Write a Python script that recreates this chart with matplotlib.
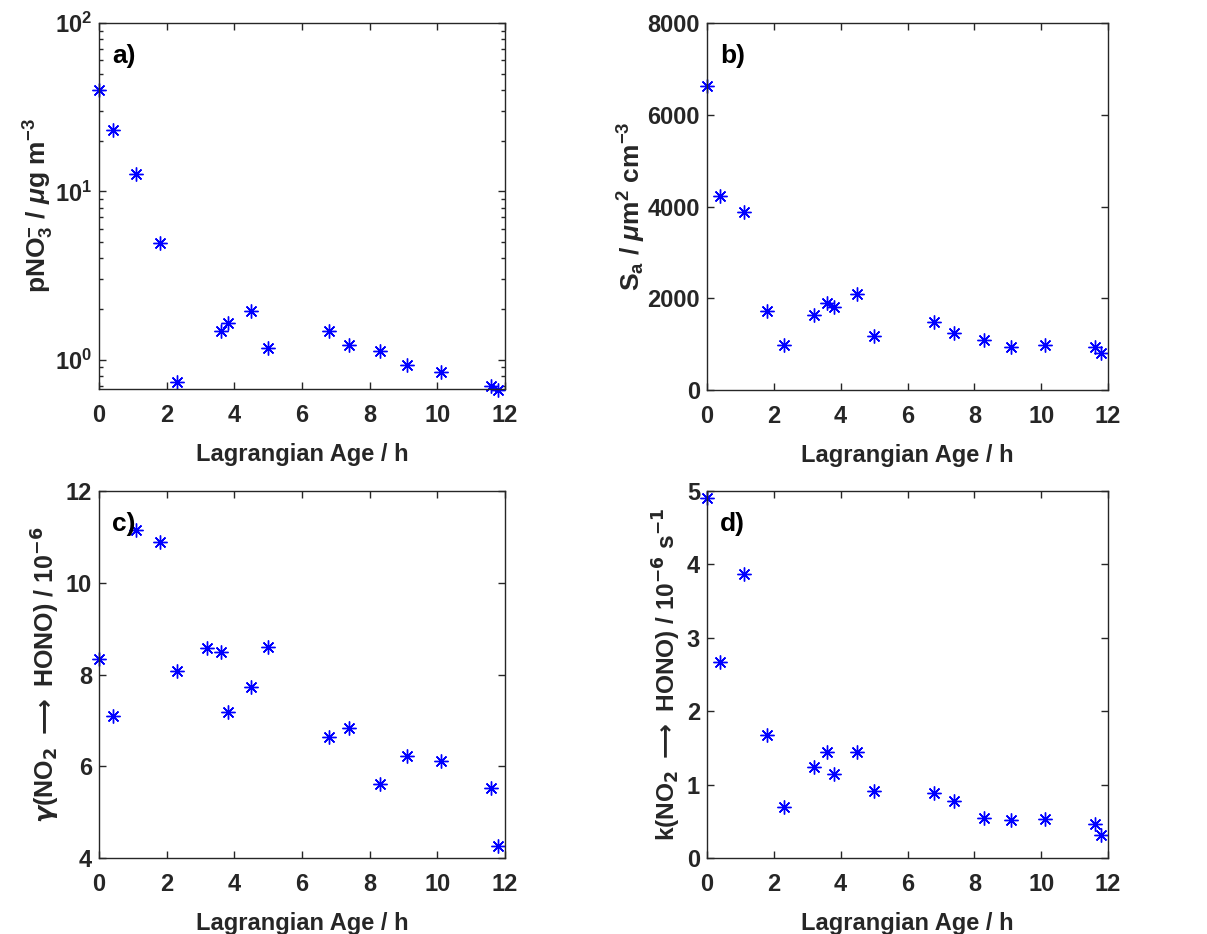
import numpy as np
import matplotlib
matplotlib.use("Agg")
import matplotlib.pyplot as plt
from matplotlib.ticker import LogLocator, NullFormatter

plt.rcParams['font.family'] = ['Liberation Sans', 'DejaVu Sans']
plt.rcParams['font.weight'] = 'bold'
plt.rcParams['mathtext.fontset'] = 'custom'
plt.rcParams['mathtext.rm'] = 'Liberation Sans:bold'
plt.rcParams['mathtext.bf'] = 'Liberation Sans:bold'
plt.rcParams['mathtext.it'] = 'Liberation Sans:italic'
plt.rcParams['mathtext.default'] = 'bf'

age = [0.0, 0.4, 1.1, 1.8, 2.3, 3.2, 3.6, 3.8, 4.5, 5.0, 6.8, 7.4, 8.3, 9.1, 10.1, 11.6, 11.8]
pno3 = [40.2, 23.2, 12.7, 4.93, 0.74, np.nan, 1.49, 1.65, 1.94, 1.18, 1.49, 1.22, 1.12, 0.93, 0.85, 0.70, 0.66]
sa = [6633, 4233, 3891, 1731, 975, 1636, 1905, 1804, 2087, 1178, 1484, 1251, 1091, 931, 975, 931, 815]
gamma = [8.34, 7.10, 11.16, 10.89, 8.07, 8.58, 8.50, 7.18, 7.72, 8.61, 6.63, 6.83, 5.62, 6.22, 6.12, 5.53, 4.26]
krate = [4.90, 2.67, 3.87, 1.68, 0.69, 1.24, 1.44, 1.14, 1.44, 0.91, 0.88, 0.77, 0.55, 0.52, 0.53, 0.47, 0.31]

xticks = [0, 2, 4, 6, 8, 10, 12]
xlabel = 'Lagrangian Age / h'

W, H = 1207, 934
fig = plt.figure(figsize=(W/100, H/100), dpi=100)

def ax_at(l, t, r, b):
    return fig.add_axes([l/W, 1-b/H, (r-l)/W, (b-t)/H])

axes = [ax_at(99, 23, 505, 389), ax_at(707, 23, 1108, 390),
        ax_at(99, 491, 505, 858), ax_at(707, 491, 1108, 858)]

ys = [pno3, sa, gamma, krate]
labels = ['a)', 'b)', 'c)', 'd)']
ylabels = [r'pNO$_3^{-}$ / $\mathit{\mu}$g m$^{-3}$',
           r'S$_a$ / $\mathit{\mu}$m$^2$ cm$^{-3}$',
           r'$\mathit{\gamma}$(NO$_2$ $\longrightarrow$ HONO) / 10$^{-6}$',
           r'k(NO$_2$ $\longrightarrow$ HONO) / 10$^{-6}$ s$^{-1}$']
math_families = ['custom', 'custom', 'dejavusans', 'dejavusans']
ylabel_sizes = [19, 19, 18, 17.6]
ylabelpads = [-1, -0.5, 2.5, 2.5]
ylims = [(0.67, 100), (0, 8000), (4, 12), (0, 5)]
yticks = [[1, 10, 100], [0, 2000, 4000, 6000, 8000], [4, 6, 8, 10, 12], [0, 1, 2, 3, 4, 5]]

for i, ax in enumerate(axes):
    ax.plot(age, ys[i], linestyle='none', marker=(8, 2, 0), color='#0000ff',
            markersize=10, markeredgewidth=1.0, clip_on=False)
    if i == 0:
        ax.set_yscale('log')
        ax.yaxis.set_minor_locator(LogLocator(base=10, subs=np.arange(2, 10)))
        ax.yaxis.set_minor_formatter(NullFormatter())
        ax.set_yticks(yticks[i])
        ax.set_yticklabels([r'10$^{0}$', r'10$^{1}$', r'10$^{2}$'])
    else:
        ax.set_yticks(yticks[i])
    ax.set_ylim(*ylims[i])
    ax.set_xlim(0, 12)
    ax.set_xticks(xticks)
    ax.set_xlabel(xlabel, fontsize=17, fontweight='bold', color='#262626', labelpad=11)
    yl = ax.set_ylabel(ylabels[i], fontsize=ylabel_sizes[i], fontweight='bold',
                       color='#262626', labelpad=ylabelpads[i])
    yl.set_math_fontfamily(math_families[i])
    ax.tick_params(which='both', direction='in', top=True, right=True,
                   labelsize=17, colors='#262626', length=5, width=1)
    ax.tick_params(axis='x', which='major', pad=11)
    ax.tick_params(axis='y', which='major', pad=5)
    ax.tick_params(which='minor', length=3)
    for lab in ax.get_xticklabels() + ax.get_yticklabels():
        lab.set_fontweight('bold')
    for s in ax.spines.values():
        s.set_color('#262626')
        s.set_linewidth(1)
    ax.text(0.032, 0.91, labels[i], transform=ax.transAxes, fontsize=19,
            fontweight='bold', ha='left', va='center', color='black')

fig.savefig('out.png', dpi=100)
